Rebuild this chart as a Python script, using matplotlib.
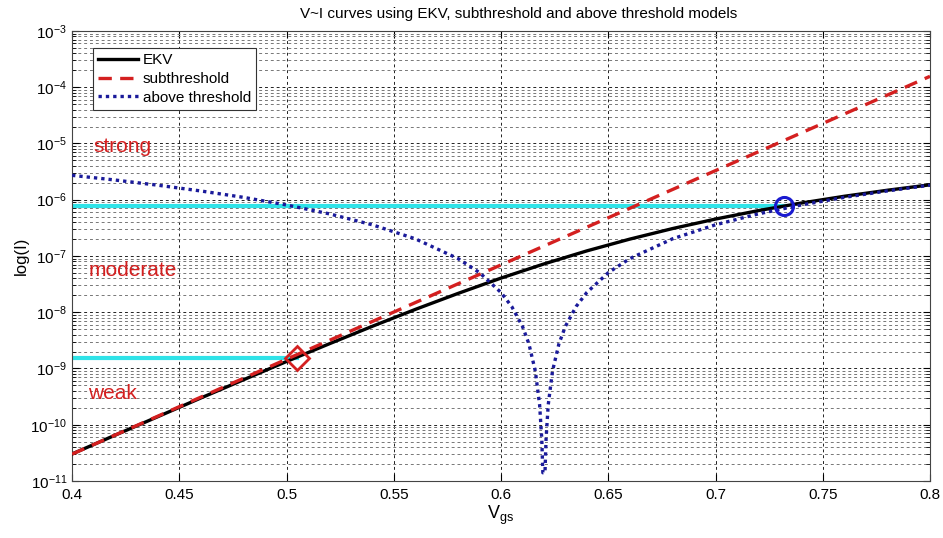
import numpy as np
import matplotlib
matplotlib.use("Agg")
import matplotlib.pyplot as plt
from matplotlib.ticker import LogLocator, LogFormatterMathtext, NullFormatter, MultipleLocator

plt.rcParams['font.family'] = ['Liberation Sans', 'DejaVu Sans']

# EKV curve
vgs_ekv = [0.40, 0.42, 0.44, 0.46, 0.48, 0.50, 0.52, 0.54, 0.56, 0.58, 0.60,
           0.62, 0.64, 0.66, 0.68, 0.70, 0.72, 0.74, 0.76, 0.78, 0.80]
i_ekv = [3.02e-11, 6.5e-11, 1.39e-10, 2.98e-10, 6.31e-10, 1.33e-9, 2.75e-9,
         5.62e-9, 1.12e-8, 2.16e-8, 4.04e-8, 7.21e-8, 1.23e-7, 1.99e-7,
         3.07e-7, 4.53e-7, 6.40e-7, 8.72e-7, 1.15e-6, 1.47e-6, 1.84e-6]

# subthreshold model (straight line on log scale)
vgs_sub = [0.40, 0.50, 0.60, 0.70, 0.80]
i_sub = [3.0e-11, 1.46e-9, 6.93e-8, 3.29e-6, 1.56e-4]

# above threshold model
vgs_above = [0.40, 0.42, 0.44, 0.46, 0.48, 0.50, 0.52, 0.54, 0.56, 0.58, 0.59,
             0.60, 0.605, 0.61, 0.613, 0.616, 0.618, 0.619, 0.6195, 0.6205,
             0.621, 0.622, 0.624, 0.627, 0.63, 0.635, 0.64, 0.65, 0.66, 0.68,
             0.70, 0.72, 0.74, 0.76, 0.78, 0.80]
i_above = [2.71e-6, 2.24e-6, 1.81e-6, 1.43e-6, 1.10e-6, 8.06e-7, 5.6e-7,
           3.58e-7, 2.02e-7, 8.96e-8, 5.04e-8, 2.24e-8, 1.26e-8, 5.6e-9,
           2.74e-9, 8.96e-10, 2.24e-10, 5.6e-11, 1.4e-11, 1.4e-11, 5.6e-11,
           2.24e-10, 8.96e-10, 2.74e-9, 5.6e-9, 1.26e-8, 2.24e-8, 5.04e-8,
           8.96e-8, 2.02e-7, 3.58e-7, 5.6e-7, 8.06e-7, 1.10e-6, 1.43e-6, 1.81e-6]

# boundary markers and cyan guide lines
weak_pt = (0.505, 1.55e-9)
strong_pt = (0.732, 7.7e-7)

regions = ['strong', 'moderate', 'weak']
region_x = [0.4098, 0.4075, 0.4075]
region_y = [9e-6, 5.6e-8, 3.6e-10]

y_decades = [1e-11, 1e-10, 1e-9, 1e-8, 1e-7, 1e-6, 1e-5, 1e-4, 1e-3]

fig = plt.figure(figsize=(9.43, 5.38), dpi=100)
ax = fig.add_axes([0.0764, 0.106, 0.9098, 0.8365])

ax.plot([0.4, weak_pt[0]], [weak_pt[1], weak_pt[1]], color='#2fe3e8', lw=3, zorder=2)
ax.plot([0.4, strong_pt[0]], [strong_pt[1], strong_pt[1]], color='#2fe3e8', lw=3, zorder=2)

ax.plot(vgs_ekv, i_ekv, color='black', lw=2.4, label='EKV', zorder=3)
ax.plot(vgs_sub, i_sub, color='#d42020', lw=2.4, ls=(0, (4, 2.5)),
        label='subthreshold', zorder=4)
ax.plot(vgs_above, i_above, color='#1a1a9a', lw=2.4, ls=(0, (1, 1.2)),
        label='above threshold', zorder=4)

ax.plot(*weak_pt, marker='D', ms=12, mfc='none', mec='#d42020', mew=2, zorder=5)
ax.plot(*strong_pt, marker='o', ms=13, mfc='none', mec='#1a1ad0', mew=2.2, zorder=5)

for name, xv, yv in zip(regions, region_x, region_y):
    ax.text(xv, yv, name, color='#d42020', fontsize=15, va='center', ha='left')

ax.set_yscale('log')
ax.set_xlim(0.4, 0.8)
ax.set_ylim(1e-11, 1e-3)
ax.xaxis.set_major_locator(MultipleLocator(0.05))
ax.xaxis.set_major_formatter(plt.FuncFormatter(lambda v, p: ('%.2f' % v).rstrip('0').rstrip('.')))
ax.set_yticks(y_decades)
ax.yaxis.set_major_formatter(LogFormatterMathtext())
ax.yaxis.set_minor_locator(LogLocator(base=10, subs=np.arange(2, 10), numticks=20))
ax.yaxis.set_minor_formatter(NullFormatter())

ax.grid(True, which='major', color='#222222', ls=(0, (3, 3)), lw=0.7)
ax.grid(True, which='minor', axis='y', color='#777777', ls=(0, (3, 3)), lw=0.7)
ax.set_axisbelow(True)

ax.tick_params(which='both', direction='in', top=True, right=True, labelsize=11)
ax.tick_params(axis='x', pad=5)
ax.tick_params(which='major', length=5)
ax.tick_params(which='minor', length=3)
for s in ax.spines.values():
    s.set_color('#444444')
    s.set_linewidth(0.8)

ax.set_title('V~I curves using EKV, subthreshold and above threshold models',
             fontsize=11, pad=9, x=0.521)
ax.set_xlabel(r'$\mathregular{V_{gs}}$', fontsize=13, labelpad=1)
ax.set_ylabel('log(I)', fontsize=12, labelpad=1)

leg = ax.legend(loc='upper left', bbox_to_anchor=(0.0245, 0.962), borderaxespad=0,
                fancybox=False, framealpha=1, edgecolor='#333333', fontsize=11,
                handlelength=2.6, handletextpad=0.3, borderpad=0.35, labelspacing=0.3)
leg.get_frame().set_linewidth(0.8)

fig.savefig('out.png', dpi=100)
